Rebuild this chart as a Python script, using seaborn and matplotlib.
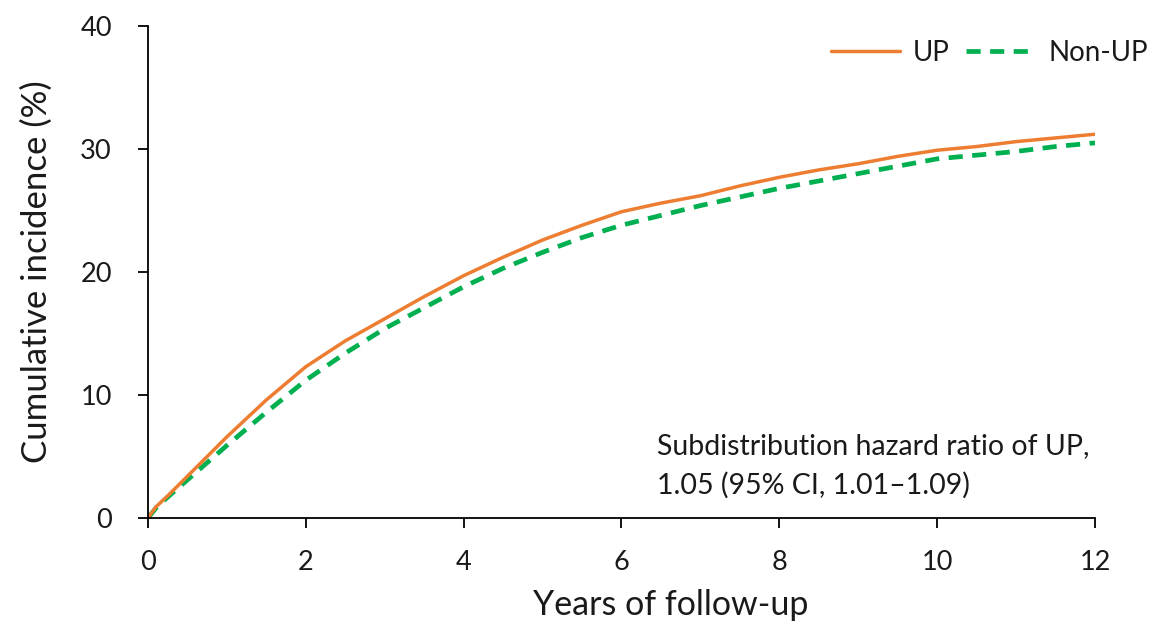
import matplotlib
matplotlib.use("Agg")
import matplotlib.pyplot as plt
import seaborn as sns
import pandas as pd
from matplotlib.lines import Line2D

years = [0, 0.1, 0.25, 0.5, 0.75, 1, 1.5, 2, 2.5, 3, 3.5, 4, 4.5, 5, 5.5, 6,
         6.5, 7, 7.5, 8, 8.5, 9, 9.5, 10, 10.5, 11, 11.5, 12]
up = [0, 0.9, 1.8, 3.4, 5.0, 6.6, 9.6, 12.3, 14.4, 16.2, 18.0, 19.7, 21.2, 22.6,
      23.8, 24.9, 25.6, 26.2, 27.0, 27.7, 28.3, 28.8, 29.4, 29.9, 30.2, 30.6, 30.9, 31.2]
non_up = [0, 0.8, 1.7, 3.1, 4.5, 5.9, 8.6, 11.2, 13.4, 15.4, 17.1, 18.8, 20.3, 21.6,
          22.8, 23.8, 24.6, 25.4, 26.1, 26.8, 27.4, 28.0, 28.6, 29.2, 29.5, 29.8, 30.2, 30.5]
groups = ["UP", "Non-UP"]
x_ticks = [0, 2, 4, 6, 8, 10, 12]
y_ticks = [0, 10, 20, 30, 40]
note = "Subdistribution hazard ratio of UP,\n1.05 (95% CI, 1.01\u20131.09)"

sns.set_theme(style="white")
plt.rcParams['font.family'] = ['Lato', 'DejaVu Sans']
TXT = "#1a1a1a"

df = pd.DataFrame({
    "year": years * 2,
    "inc": up + non_up,
    "group": [groups[0]] * len(years) + [groups[1]] * len(years),
})

fig = plt.figure(figsize=(11.67, 6.22), dpi=100)
ax = fig.add_axes([0.1268, 0.1672, 0.8115, 0.791])
sns.lineplot(data=df, x="year", y="inc", hue="group", style="group",
             palette={"UP": "#ED7D31", "Non-UP": "#00B050"},
             dashes={"UP": "", "Non-UP": (3, 2)}, ax=ax, legend=False)
lines = ax.get_lines()
lines[0].set_linewidth(2.5)
lines[1].set_linewidth(3.4)
lines[1].set_zorder(1)
lines[0].set_zorder(2)

ax.set_xlim(0, 12)
ax.set_ylim(0, 40)
ax.set_xticks(x_ticks)
ax.set_yticks(y_ticks)
ax.tick_params(axis="both", labelsize=19.5, colors="black", labelcolor=TXT,
               length=7, width=1.3, direction="out", bottom=True, left=True)
ax.tick_params(axis="y", pad=19)
ax.tick_params(axis="x", pad=16)
for s in ["top", "right"]:
    ax.spines[s].set_visible(False)
for s in ["left", "bottom"]:
    ax.spines[s].set_color("black")
    ax.spines[s].set_linewidth(1.3)
ax.set_xlabel("Years of follow-up", fontsize=24.5, color=TXT)
ax.xaxis.set_label_coords(0.552, -0.145)
ax.set_ylabel("Cumulative incidence (%)", fontsize=25, labelpad=20, color=TXT)

handles = [Line2D([], [], color="#ED7D31", lw=2.5),
           Line2D([], [], color="#00B050", lw=3.4, dashes=(3, 2))]
ax.legend(handles, groups, loc="upper right", bbox_to_anchor=(1.082, 1.022), ncol=2,
          frameon=False, fontsize=20, handlelength=2.5, handletextpad=0.45,
          columnspacing=0.6, labelcolor=TXT)

ax.text(6.45, 6.9, note, fontsize=20.5, va="top", ha="left", linespacing=1.6,
        color=TXT)

fig.patch.set_facecolor("white")
fig.savefig("out.png", dpi=100)
